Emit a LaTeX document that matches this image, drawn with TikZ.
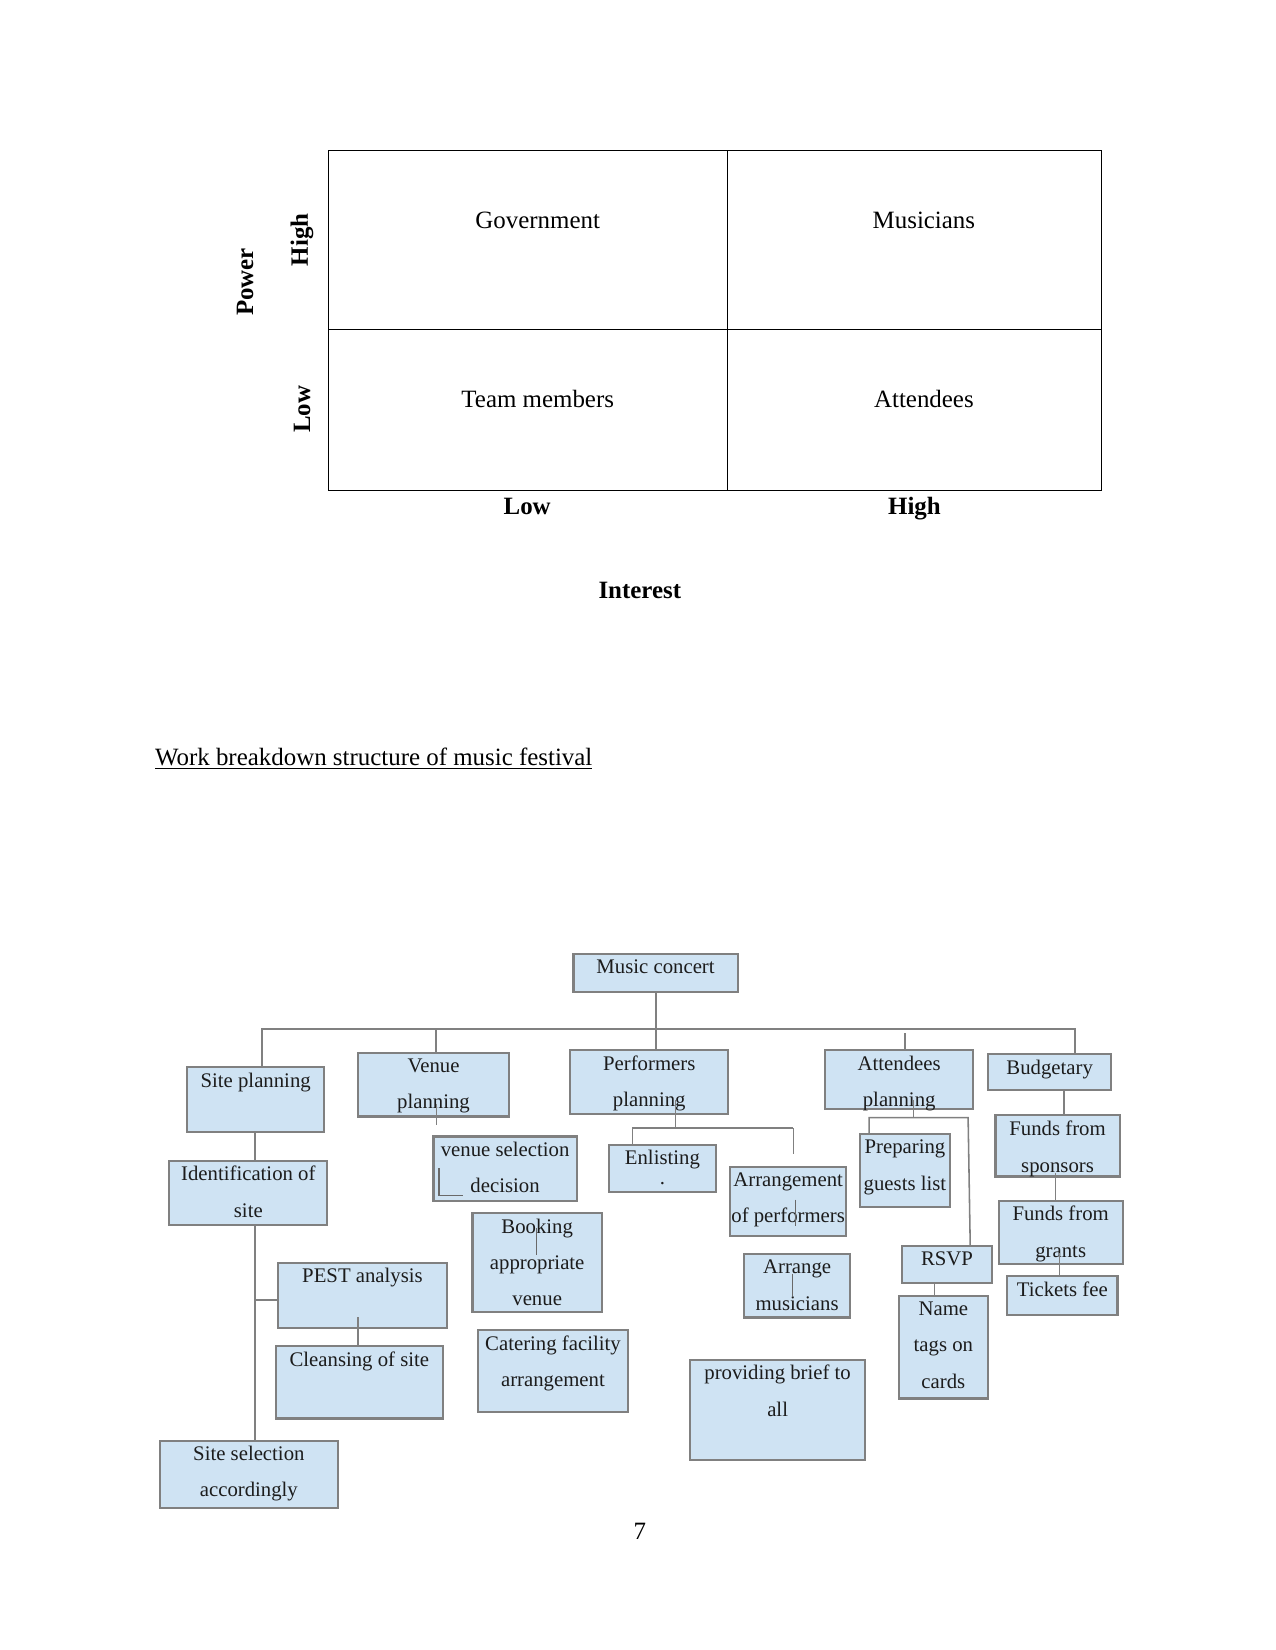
\documentclass[tikz,border=0pt]{standalone}
\usepackage{fontspec}
\setmainfont{Liberation Serif}
\usepackage{xcolor}
\definecolor{wbsfill}{RGB}{207, 227, 243}
\definecolor{wbsline}{RGB}{128, 128, 128}
\definecolor{wbsink}{RGB}{28, 28, 28}
\definecolor{strayink}{RGB}{105, 105, 105}
\usepackage{tikz}
\usetikzlibrary{positioning}
\tikzset{
  gridline/.style = {
    draw=black,
    line width=0.6pt
  },
  celltext/.style = {
    font=\fontsize{12}{14.4}\selectfont,
    text=black,
    inner sep=0pt,
    anchor=base
  },
  axislabel/.style = {
    font=\fontsize{12}{14.4}\selectfont\bfseries,
    text=black,
    inner sep=0pt
  },
  wbsbox/.style 2 args = {
    rectangle,
    draw=wbsline,
    fill=wbsfill,
    line width=1pt,
    inner sep=0pt,
    minimum width=#1*0.505bp,
    minimum height=#2*0.505bp,
    anchor=north west
  },
  wbslabel/.style = {
    anchor=north,
    align=center,
    inner xsep=0pt,
    inner ysep=3bp,
    text=wbsink,
    font=\fontsize{10}{17.5}\selectfont
  },
  trunk/.style = {
    draw=wbsline,
    line width=1pt
  },
  sublink/.style = {
    draw=wbsline,
    line width=0.75pt
  },
  strayline/.style = {
    draw=strayink,
    line width=0.7pt
  }
}
\begin{document}
\begin{tikzpicture}[x=0.505bp, y=-0.505bp]
  \useasboundingbox (0,0) rectangle (1212,1568);

  % Power / interest grid
  \draw[gridline] (312,143) rectangle (1047,466);
  \draw[gridline] (312,313) -- (1047,313);
  \draw[gridline] (691,143) -- (691,466);

  \node[celltext] (gov) at (511,217) {Government};
  \node[celltext] (mus) at (878,217) {Musicians};
  \node[celltext] (team) at (511,387) {Team members};
  \node[celltext] (att) at (878,387) {Attendees};

  \node[axislabel, rotate=90] (powhigh) at (287,228) {High};
  \node[axislabel, rotate=90] (powlow) at (287,389) {Low};
  \node[axislabel, rotate=90] (power) at (233,268) {Power};
  \node[axislabel, anchor=base] (intlow) at (501,489) {Low};
  \node[axislabel, anchor=base] (inthigh) at (869,489) {High};
  \node[axislabel, anchor=base] (interest) at (608,569) {Interest};

  % Title
  \node[celltext, anchor=base west] (title) at (147,727) {\underline{Work breakdown structure of music festival}};

  % WBS boxes
  \node[wbsbox={156}{36}] (concert) at (544,906) {};
  \node[wbslabel] (concert-t) at (concert.north) {Music concert};

  \node[wbsbox={130}{62}] (site) at (177,1013) {};
  \node[wbslabel] (site-t) at (site.north) {Site planning};
  \node[wbsbox={144}{60}] (venue) at (339,1000) {};
  \node[wbslabel] (venue-t) at (venue.north) {Venue\\planning};
  \node[wbsbox={150}{61}] (perf) at (541,997) {};
  \node[wbslabel] (perf-t) at (perf.north) {Performers\\planning};
  \node[wbsbox={141}{56}] (attend) at (783,997) {};
  \node[wbslabel] (attend-t) at (attend.north) {Attendees\\planning};
  \node[wbsbox={117}{34}] (budget) at (938,1001) {};
  \node[wbslabel] (budget-t) at (budget.north) {Budgetary};

  % Site planning branch
  \node[wbsbox={150}{61}] (ident) at (160,1102) {};
  \node[wbslabel] (ident-t) at (ident.north) {Identification of\\site};
  \node[wbsbox={161}{62}] (pest) at (263,1199) {};
  \node[wbslabel] (pest-t) at (pest.north) {PEST analysis};
  \node[wbsbox={159}{69}] (cleanse) at (261,1278) {};
  \node[wbslabel] (cleanse-t) at (cleanse.north) {Cleansing of site};
  \node[wbsbox={169}{64}] (sitesel) at (151,1368) {};
  \node[wbslabel] (sitesel-t) at (sitesel.north) {Site selection\\accordingly};

  % Venue planning branch
  \node[wbsbox={136}{61}] (vsel) at (411,1079) {};
  \node[wbslabel] (vsel-t) at (vsel.north) {venue selection\\decision};
  \node[wbsbox={123}{94}] (booking) at (448,1152) {};
  \node[wbslabel] (booking-t) at (booking.north) {Booking\\appropriate\\venue};
  \node[wbsbox={143}{78}] (catering) at (453,1263) {};
  \node[wbslabel] (catering-t) at (catering.north) {Catering facility\\arrangement};

  % Performers planning branch
  \node[wbsbox={101}{45}] (enlist) at (578,1087) {};
  \node[wbslabel] (enlist-t) at (enlist.north) {Enlisting\\[-8bp].};
  \node[wbsbox={110}{66}] (arrperf) at (693,1108) {};
  \node[wbslabel] (arrperf-t) at (arrperf.north) {Arrangement\\of performers};
  \node[wbsbox={101}{60}] (arrmus) at (706,1191) {};
  \node[wbslabel] (arrmus-t) at (arrmus.north) {Arrange\\musicians};
  \node[wbsbox={166}{95}] (brief) at (655,1291) {};
  \node[wbslabel] (brief-t) at (brief.north) {providing brief to\\all};

  % Attendees planning branch
  \node[wbsbox={86}{69}] (guests) at (816,1077) {};
  \node[wbslabel] (guests-t) at (guests.north) {Preparing\\guests list};
  \node[wbsbox={86}{35}] (rsvp) at (856,1183) {};
  \node[wbslabel] (rsvp-t) at (rsvp.north) {RSVP};
  \node[wbsbox={85}{97}] (tags) at (853,1231) {};
  \node[wbslabel] (tags-t) at (tags.north) {Name\\tags on\\cards};

  % Budgetary branch
  \node[wbsbox={118}{58}] (sponsors) at (945,1059) {};
  \node[wbslabel] (sponsors-t) at (sponsors.north) {Funds from\\sponsors};
  \node[wbsbox={118}{60}] (grants) at (948,1140) {};
  \node[wbslabel] (grants-t) at (grants.north) {Funds from\\grants};
  \node[wbsbox={105}{37}] (tickets) at (956,1212) {};
  \node[wbslabel] (tickets-t) at (tickets.north) {Tickets fee};

  % Connectors
  \coordinate (barL) at (249,978);
  \coordinate (barR) at (1022,978);
  \draw[trunk] (concert.south) -- (perf.north -| concert.south);
  \draw[trunk] (site.north -| barL) -- (barL) -- (barR) -- (budget.north -| barR);
  \draw[trunk] (barL -| 414,0) -- (venue.north -| 414,0);
  \draw[trunk, shorten <=2bp] (barL -| 860,0) -- (attend.north -| 860,0);

  \coordinate (pestjoin) at (242,1235);
  \draw[trunk] (site.south -| pestjoin) -- (ident.north -| pestjoin);
  \draw[trunk] (ident.south -| pestjoin) -- (sitesel.north -| pestjoin);
  \draw[trunk] (pestjoin) -- (pestjoin -| pest.west);
  \draw[sublink, shorten <=-5.6bp] (pest.south -| 340,0) -- (cleanse.north -| 340,0);

  \draw[sublink, shorten <=-6.6bp, shorten >=5bp] (venue.south -| 415,0) -- (vsel.north -| 415,0);

  \coordinate (perfbarL) at (601,1072);
  \coordinate (perfbarR) at (754,1072);
  \draw[sublink, shorten <=-7.6bp] (perf.south -| 642,0) -- (perfbarL -| 642,0);
  \draw[sublink] (enlist.north -| perfbarL) -- (perfbarL) -- (perfbarR);
  \draw[sublink, shorten >=5.6bp] (perfbarR) -- (arrperf.north -| perfbarR);

  \coordinate (attbarL) at (826,1062);
  \coordinate (attbarR) at (920,1062);
  \draw[sublink, shorten <=-5bp] (attend.south -| 868,0) -- (attbarL -| 868,0);
  \draw[sublink] (guests.north -| attbarL) -- (attbarL) -- (attbarR) -- (rsvp.north -| 922,0);
  \draw[sublink] (rsvp.south -| 888,0) -- (tags.north -| 888,0);

  \draw[trunk] (budget.south -| 1011,0) -- (sponsors.north -| 1011,0);
  \draw[sublink, shorten <=-2bp] (sponsors.south -| 1003,0) -- (grants.north -| 1003,0);
  \draw[sublink, shorten <=-5.6bp] (grants.south -| 1007,0) -- (tickets.north -| 1007,0);

  % stray marks inside boxes
  \draw[strayline] (417,1110) |- (440,1136);
  \draw[strayline] (510,1167) -- (510,1193);
  \draw[strayline] (756,1140) -- (756,1165);
  \draw[strayline] (753,1211) -- (753,1232);

  % Page number
  \node[celltext] (pagenum) at (608,1463) {7};
\end{tikzpicture}
\end{document}
